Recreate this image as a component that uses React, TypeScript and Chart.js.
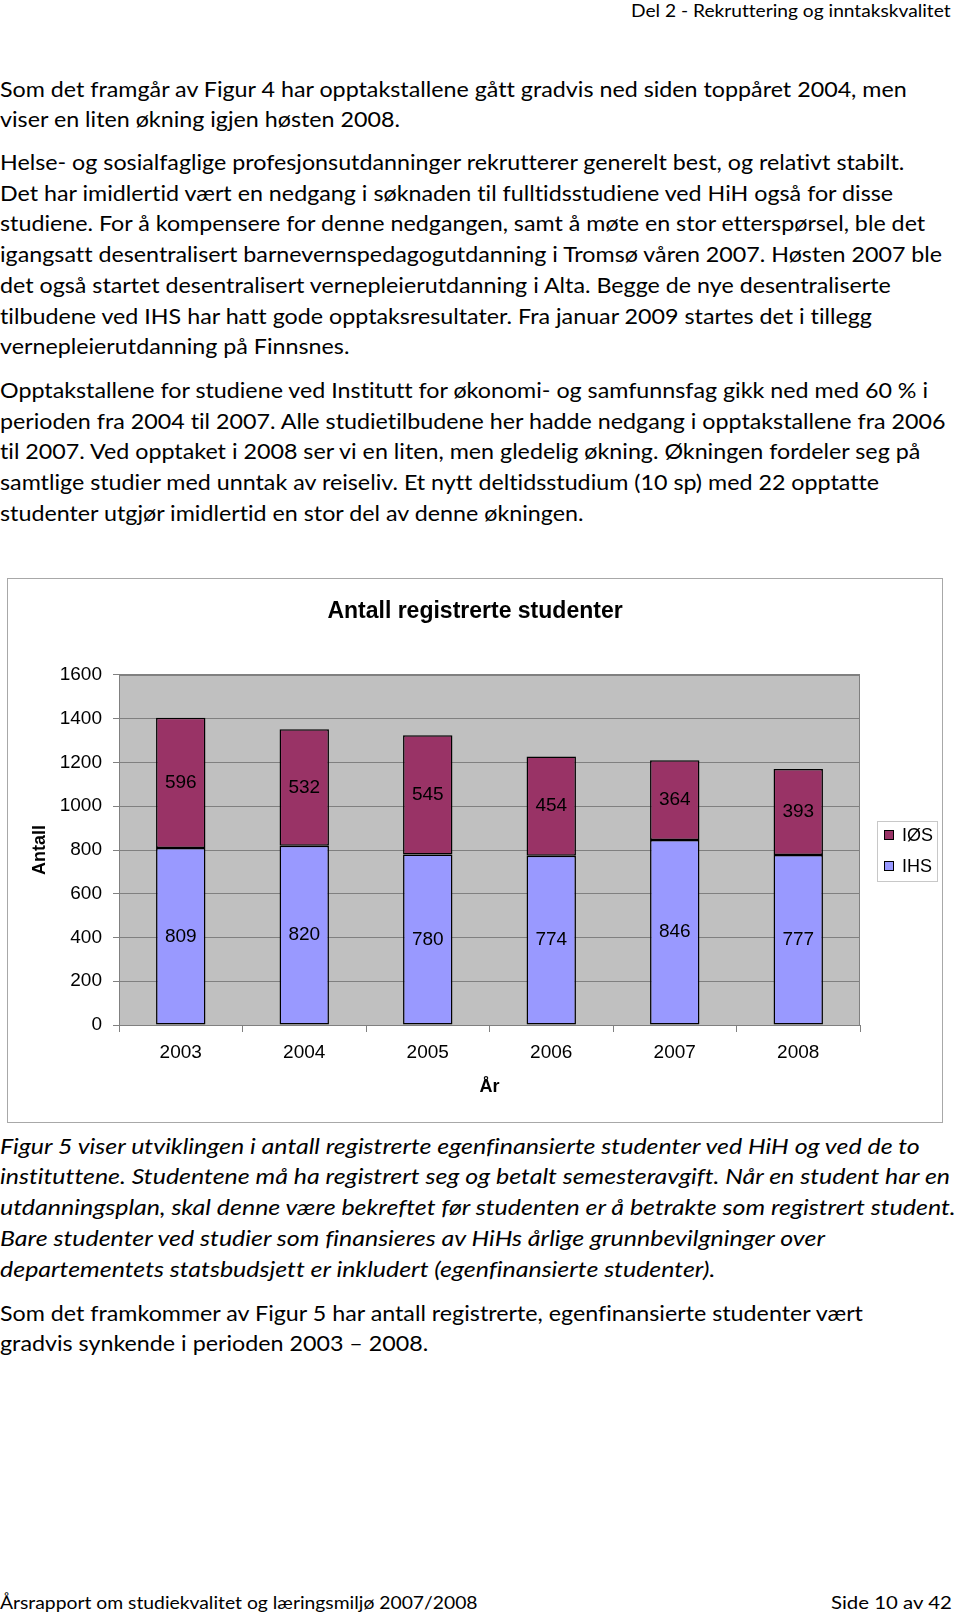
import React, { useEffect, useLayoutEffect, useRef, useState } from "react";
import { Chart, registerables } from "chart.js";

Chart.register(...registerables);

// ---------- chart data ----------
const years = ["2003", "2004", "2005", "2006", "2007", "2008"];
const ihsValues = [809, 820, 780, 774, 846, 777];
const iosValues = [596, 532, 545, 454, 364, 393];
const seriesLabels = ["IHS", "IØS"];
const seriesColors = ["#9999FF", "#993366"];
const yMin = 0;
const yMax = 1600;
const yStep = 200;
const chartTitle = "Antall registrerte studenter";
const yTitle = "Antall";
const xTitle = "År";

// ---------- page text ----------
const headerText = "Del 2 - Rekruttering og inntakskvalitet";
const footerLeft = "Årsrapport om studiekvalitet og læringsmiljø 2007/2008";
const footerRight = "Side 10 av 42";

const para1 = [
  "Som det framgår av Figur 4 har opptakstallene gått gradvis ned siden toppåret 2004, men",
  "viser en liten økning igjen høsten 2008.",
];
const para2 = [
  "Helse- og sosialfaglige profesjonsutdanninger rekrutterer generelt best, og relativt stabilt.",
  "Det har imidlertid vært en nedgang i søknaden til fulltidsstudiene ved HiH også for disse",
  "studiene. For å kompensere for denne nedgangen, samt å møte en stor etterspørsel, ble det",
  "igangsatt desentralisert barnevernspedagogutdanning i Tromsø våren 2007. Høsten 2007 ble",
  "det også startet desentralisert vernepleierutdanning i Alta. Begge de nye desentraliserte",
  "tilbudene ved IHS har hatt gode opptaksresultater. Fra januar 2009 startes det i tillegg",
  "vernepleierutdanning på Finnsnes.",
];
const para3 = [
  "Opptakstallene for studiene ved Institutt for økonomi- og samfunnsfag gikk ned med 60 % i",
  "perioden fra 2004 til 2007. Alle studietilbudene her hadde nedgang i opptakstallene fra 2006",
  "til 2007. Ved opptaket i 2008 ser vi en liten, men gledelig økning. Økningen fordeler seg på",
  "samtlige studier med unntak av reiseliv. Et nytt deltidsstudium (10 sp) med 22 opptatte",
  "studenter utgjør imidlertid en stor del av denne økningen.",
];
const caption = [
  "Figur 5 viser utviklingen i antall registrerte egenfinansierte studenter ved HiH og ved de to",
  "instituttene. Studentene må ha registrert seg og betalt semesteravgift. Når en student har en",
  "utdanningsplan, skal denne være bekreftet før studenten er å betrakte som registrert student.",
  "Bare studenter ved studier som finansieres av HiHs årlige grunnbevilgninger over",
  "departementets statsbudsjett er inkludert (egenfinansierte studenter).",
];
const para5 = [
  "Som det framkommer av Figur 5 har antall registrerte, egenfinansierte studenter vært",
  "gradvis synkende i perioden 2003 – 2008.",
];

// ---------- layout constants ----------
const BODY_FONT = "Lato, 'Open Sans', sans-serif";
const CHART_FONT = "'Liberation Sans', Arial, sans-serif";
const LINE_STEP = 30.75;
const LINE_BOX = 30;
const BODY_SIZE = 21;
const SMALL_SIZE = 17;

const CANVAS_LEFT = 7;
const CANVAS_TOP = 578;
const CANVAS_W = 936;
const CANVAS_H = 545;
const PLOT_LEFT = 112;
const PLOT_RIGHT = 853;
const PLOT_TOP = 97;
const PLOT_BOTTOM = 447;

const framePlugin = {
  id: "frame",
  beforeDraw(chart: any) {
    const { ctx, chartArea: a, width, height } = chart;
    ctx.save();
    ctx.fillStyle = "#ffffff";
    ctx.fillRect(0, 0, width, height);
    ctx.fillStyle = "#C0C0C0";
    ctx.fillRect(a.left, a.top, a.right - a.left, a.bottom - a.top);
    ctx.strokeStyle = "#a8a8a8";
    ctx.lineWidth = 1;
    ctx.strokeRect(0.5, 0.5, width - 1, height - 1);
    ctx.restore();
  },
  beforeDatasetsDraw(chart: any) {
    const { ctx, chartArea: a } = chart;
    ctx.save();
    ctx.strokeStyle = "#808080";
    ctx.lineWidth = 1;
    ctx.strokeRect(a.left + 0.5, a.top + 0.5, a.right - a.left - 1, a.bottom - a.top);
    ctx.restore();
  },
};

const valueLabelPlugin = {
  id: "valueLabels",
  afterDatasetsDraw(chart: any) {
    const { ctx } = chart;
    ctx.save();
    ctx.font = `19px ${CHART_FONT}`;
    ctx.fillStyle = "#000";
    ctx.textAlign = "center";
    ctx.textBaseline = "middle";
    chart.data.datasets.forEach((ds: any, di: number) => {
      const meta = chart.getDatasetMeta(di);
      meta.data.forEach((el: any, i: number) => {
        const cy = (el.y + el.base) / 2;
        ctx.fillText(String(ds.data[i]), el.x, cy);
      });
    });
    ctx.restore();
  },
};

const legendPlugin = {
  id: "boxLegend",
  afterDraw(chart: any) {
    const { ctx, chartArea: a } = chart;
    const left = a.right + 17;
    const midY = (a.top + a.bottom) / 2;
    const top = midY - 29;
    const w = 60;
    const h = 60;
    ctx.save();
    ctx.strokeStyle = "#c8c8c8";
    ctx.lineWidth = 1;
    ctx.strokeRect(left + 0.5, top + 0.5, w, h);
    const order = chart.data.datasets.map((_: any, i: number) => i).reverse();
    ctx.font = `18px ${CHART_FONT}`;
    ctx.textBaseline = "middle";
    ctx.textAlign = "left";
    order.forEach((di: number, row: number) => {
      const ds = chart.data.datasets[di];
      const cy = top + 14 + row * 31;
      ctx.fillStyle = ds.backgroundColor;
      ctx.fillRect(left + 7, cy - 5, 10, 10);
      ctx.strokeStyle = "#000";
      ctx.strokeRect(left + 7.5, cy - 4.5, 9, 9);
      ctx.fillStyle = "#000";
      ctx.fillText(ds.label, left + 25, cy + 1);
    });
    ctx.restore();
  },
};

function ChartBox() {
  const ref = useRef<HTMLCanvasElement>(null);
  useEffect(() => {
    if (!ref.current) return;
    const chart = new Chart(ref.current, {
      type: "bar",
      data: {
        labels: years,
        datasets: [
          {
            label: seriesLabels[0],
            data: ihsValues,
            backgroundColor: seriesColors[0],
            borderColor: "#000",
            borderWidth: 1.5,
            borderSkipped: false,
            barPercentage: 0.4,
            categoryPercentage: 1,
          },
          {
            label: seriesLabels[1],
            data: iosValues,
            backgroundColor: seriesColors[1],
            borderColor: "#000",
            borderWidth: 1.5,
            borderSkipped: false,
            barPercentage: 0.4,
            categoryPercentage: 1,
          },
        ],
      },
      options: {
        animation: false,
        responsive: true,
        maintainAspectRatio: false,
        devicePixelRatio: 1,
        layout: { padding: 0 },
        plugins: {
          legend: { display: false },
          tooltip: { enabled: false },
          title: {
            display: true,
            text: chartTitle,
            color: "#000",
            font: { family: CHART_FONT, size: 23, weight: "bold", lineHeight: 1.2 },
            padding: { top: 20.2, bottom: PLOT_TOP - 20.2 - 27.6 },
          },
        },
        scales: {
          x: {
            stacked: true,
            afterFit: (s: any) => {
              s.height = CANVAS_H - PLOT_BOTTOM;
            },
            grid: {
              display: true,
              offset: true,
              drawOnChartArea: false,
              drawTicks: true,
              tickLength: 7,
              color: "#808080",
            },
            border: { display: true, color: "#808080" },
            ticks: {
              color: "#000",
              font: { family: CHART_FONT, size: 19 },
              padding: 9.6,
              maxRotation: 0,
            },
            title: {
              display: true,
              text: xTitle,
              color: "#000",
              font: { family: CHART_FONT, size: 18, weight: "bold", lineHeight: 1.2 },
              padding: { top: 0, bottom: 25.5 },
            },
          },
          y: {
            stacked: true,
            position: "left",
            min: yMin,
            max: yMax,
            afterFit: (s: any) => {
              s.width = PLOT_LEFT;
            },
            grid: {
              color: "#808080",
              lineWidth: 1,
              drawTicks: true,
              tickLength: 6,
            },
            border: { display: true, color: "#808080" },
            ticks: {
              stepSize: yStep,
              color: "#000",
              font: { family: CHART_FONT, size: 19 },
              padding: 11,
              callback: (v: any) => String(v),
            },
            title: {
              display: true,
              text: yTitle,
              color: "#000",
              font: { family: CHART_FONT, size: 18, weight: "bold", lineHeight: 1.2 },
              padding: { top: 22, bottom: 0 },
            },
          },
          legendSpace: {
            type: "linear",
            position: "right",
            display: true,
            afterFit: (s: any) => {
              s.width = CANVAS_W - PLOT_RIGHT;
            },
            grid: { display: false, drawTicks: false },
            border: { display: false },
            ticks: { display: false },
          },
        },
      },
      plugins: [framePlugin, valueLabelPlugin, legendPlugin],
    } as any);
    return () => chart.destroy();
  }, []);
  return (
    <div
      style={{
        position: "absolute",
        left: CANVAS_LEFT,
        top: CANVAS_TOP,
        width: CANVAS_W,
        height: CANVAS_H,
      }}
    >
      <canvas ref={ref} />
    </div>
  );
}

export default function App() {
  const regRef = useRef<HTMLDivElement>(null);
  const itRef = useRef<HTMLDivElement>(null);
  const hdrRef = useRef<HTMLDivElement>(null);
  const flRef = useRef<HTMLDivElement>(null);
  const frRef = useRef<HTMLDivElement>(null);
  const [sc, setSc] = useState({ reg: 1, it: 1, hdr: 1, fl: 1, fr: 1 });

  useLayoutEffect(() => {
    const w = (r: any) => (r.current ? r.current.offsetWidth || 1 : 1);
    setSc({
      reg: 946 / w(regRef),
      it: 956 / w(itRef),
      hdr: 320 / w(hdrRef),
      fl: 478 / w(flRef),
      fr: 121 / w(frRef),
    });
  }, []);

  const blocks = [
    { lines: para1, top: 88.7, italic: false },
    { lines: para2, top: 161.9, italic: false },
    { lines: para3, top: 389.8, italic: false },
    { lines: caption, top: 1145.6, italic: true },
    { lines: para5, top: 1312.6, italic: false },
  ];

  const lineStyle = (center: number, size: number): React.CSSProperties => ({
    position: "absolute",
    top: center - LINE_BOX / 2,
    lineHeight: `${LINE_BOX}px`,
    height: LINE_BOX,
    whiteSpace: "nowrap",
    fontFamily: BODY_FONT,
    fontSize: size,
    fontVariantLigatures: "none",
    fontFeatureSettings: '"liga" 0, "clig" 0',
    color: "#000",
  });

  return (
    <div
      style={{
        position: "absolute",
        left: 0,
        top: 0,
        width: 960,
        height: 1617,
        overflow: "hidden",
        background: "#fff",
      }}
    >
      <div
        ref={hdrRef}
        style={{
          ...lineStyle(11.3, SMALL_SIZE),
          right: 9,
          transformOrigin: "right center",
          transform: `scaleX(${sc.hdr})`,
        }}
      >
        {headerText}
      </div>

      {blocks.map((b, bi) =>
        b.lines.map((t, li) => {
          const isRegRef = bi === 2 && li === 1;
          const isItRef = bi === 3 && li === 2;
          return (
            <div
              key={`${bi}-${li}`}
              ref={isRegRef ? regRef : isItRef ? itRef : undefined}
              style={{
                ...lineStyle(b.top + li * LINE_STEP, BODY_SIZE),
                left: 0,
                fontStyle: b.italic ? "italic" : "normal",
                transformOrigin: "left center",
                transform: `scaleX(${b.italic ? sc.it : sc.reg})`,
              }}
            >
              {t}
            </div>
          );
        })
      )}

      <ChartBox />

      <div
        ref={flRef}
        style={{
          ...lineStyle(1603.4, SMALL_SIZE),
          left: 0,
          transformOrigin: "left center",
          transform: `scaleX(${sc.fl})`,
        }}
      >
        {footerLeft}
      </div>
      <div
        ref={frRef}
        style={{
          ...lineStyle(1603.4, SMALL_SIZE),
          right: 8,
          transformOrigin: "right center",
          transform: `scaleX(${sc.fr})`,
        }}
      >
        {footerRight}
      </div>
    </div>
  );
}
